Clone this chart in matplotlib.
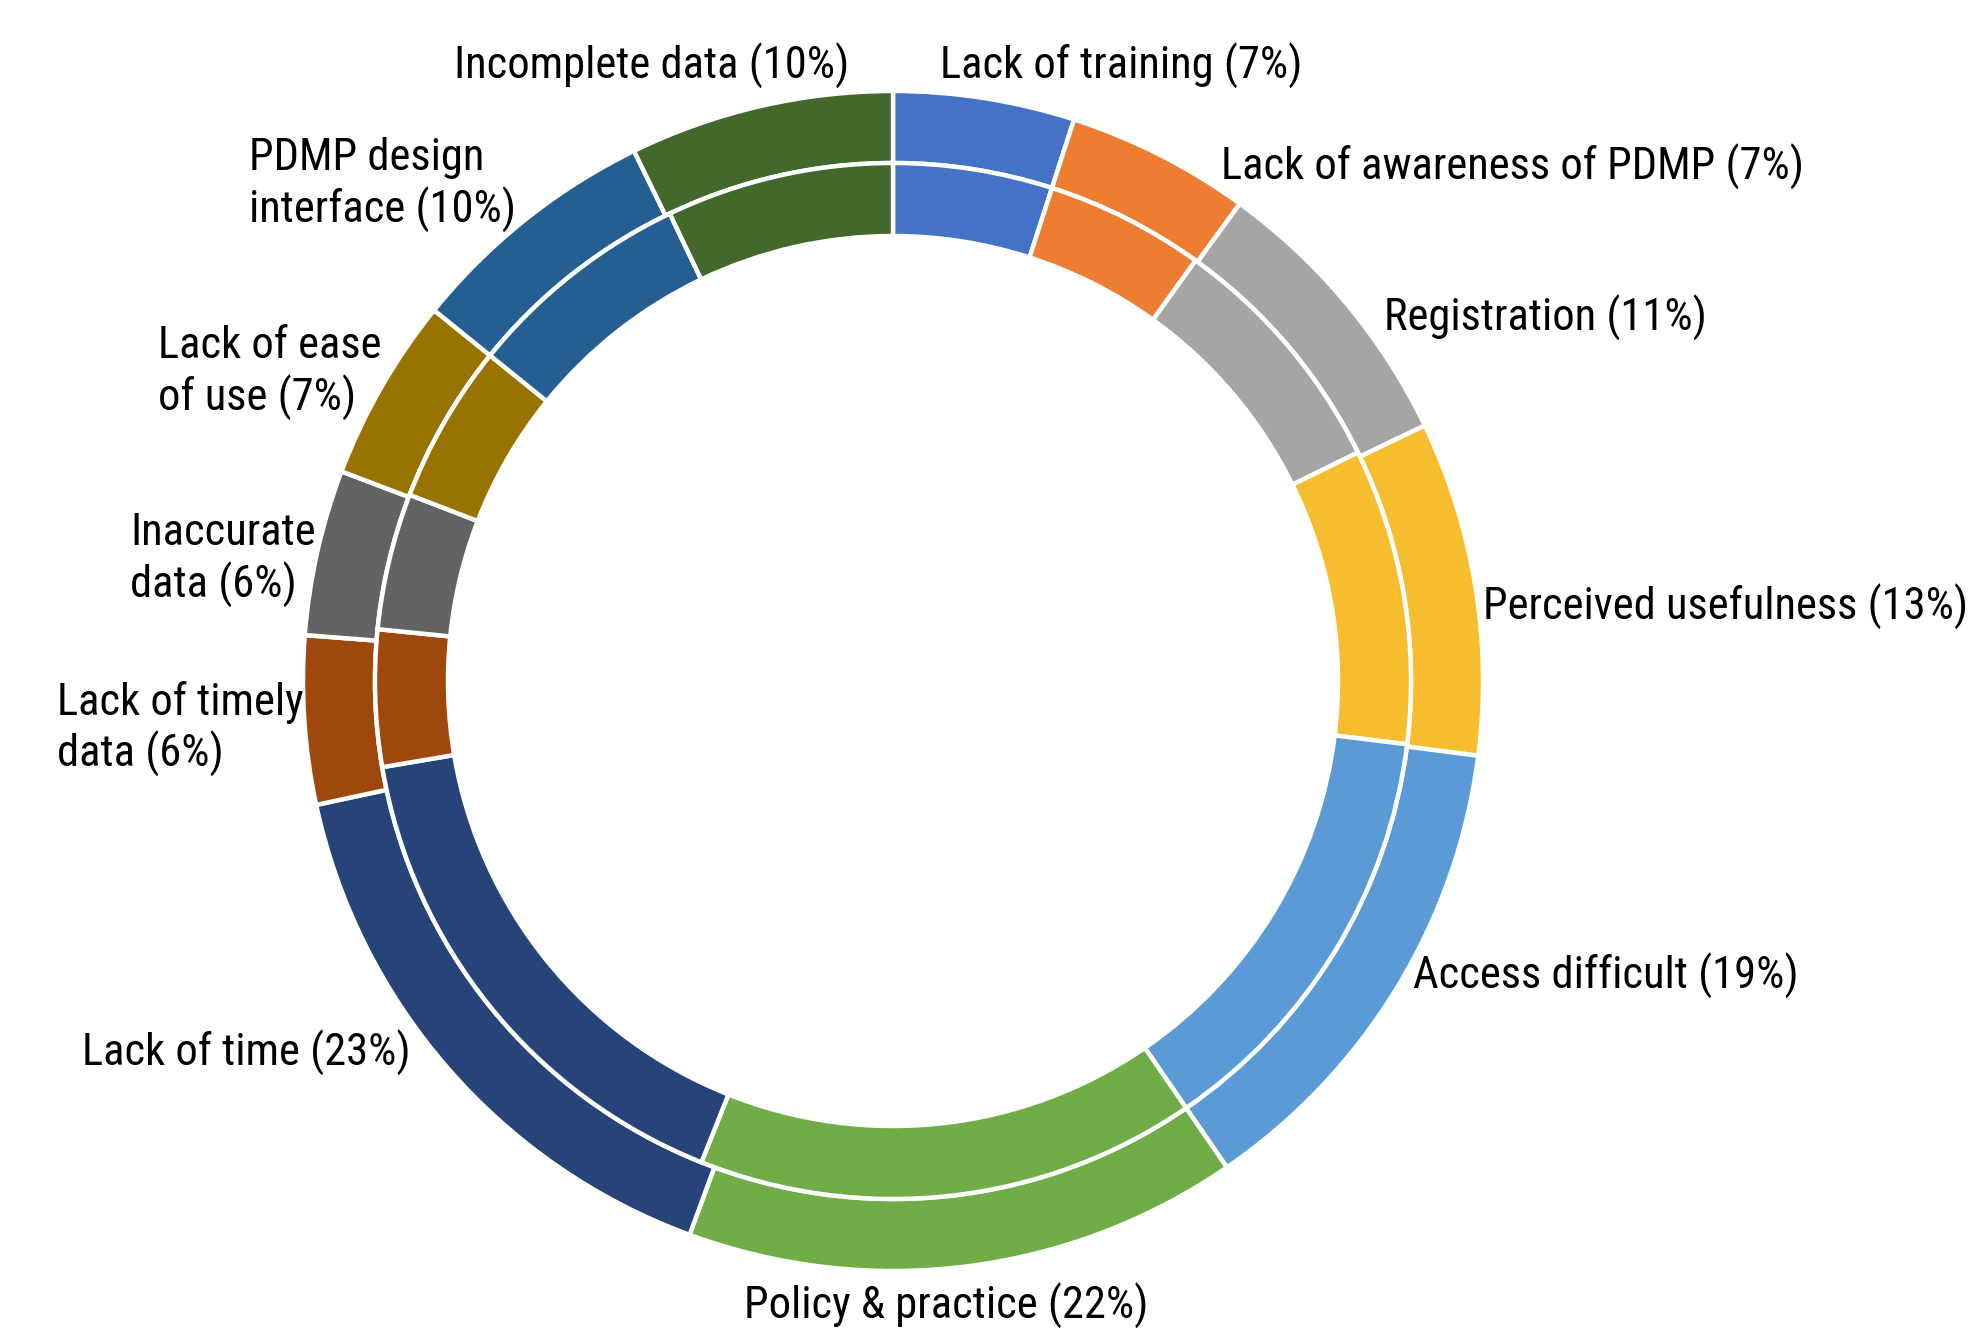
import numpy as np
import matplotlib
matplotlib.use('Agg')
import matplotlib.pyplot as plt
from matplotlib import font_manager

# barrier categories, clockwise from 12 o'clock
labels = ['Lack of training (7%)', 'Lack of awareness of PDMP (7%)', 'Registration (11%)',
          'Perceived usefulness (13%)', 'Access difficult (19%)', 'Policy & practice (22%)',
          'Lack of time (23%)', 'Lack of timely\ndata (6%)', 'Inaccurate\ndata (6%)',
          'Lack of ease\nof use (7%)', 'PDMP design\ninterface (10%)', 'Incomplete data (10%)']
inner_pct = [7, 7, 11, 13, 19, 22, 23, 6, 6, 7, 10, 10]
outer_pct = [7.0, 7.1, 11.1, 12.9, 18.9, 21.4, 22.6, 6.5, 6.4, 7.1, 9.8, 10.2]
colors = ['#4472C4', '#ED7D31', '#A5A5A5', '#F6BE2F', '#5B9BD5', '#70AD47',
          '#264478', '#9E480E', '#636363', '#997300', '#255E91', '#43682B']

names = {f.name for f in font_manager.fontManager.ttflist}
narrow = [n for n in ['Liberation Sans Narrow', 'Roboto Condensed', 'DejaVu Sans Condensed',
                      'Open Sans Condensed'] if n in names]
if narrow:
    family, fsize = [narrow[0]], 32
else:
    family, fsize = ['Liberation Sans'], 27

W, H = 1978, 1330
fig = plt.figure(figsize=(W / 100, H / 100), dpi=100)
ax = fig.add_axes([0, 0, 1, 1])

cx, cy = 893, 681
wp = dict(edgecolor='white', linewidth=3.2)
ax.pie(outer_pct, colors=colors, radius=590, center=(cx, -cy), startangle=90,
       counterclock=False, wedgeprops=dict(width=72, **wp), frame=True)
ax.pie(inner_pct, colors=colors, radius=518, center=(cx, -cy), startangle=90,
       counterclock=False, wedgeprops=dict(width=73, **wp), frame=True)
# pie draws in y-up coordinates; flip back into pixel space
for p in ax.patches:
    p.set_transform(matplotlib.transforms.Affine2D().scale(1, -1) + ax.transData)
ax.set_xlim(0, W)
ax.set_ylim(H, 0)
ax.set_aspect('equal')
ax.axis('off')

# label anchors (x, y, ha)
pos = [(940, 66, 'left'), (1221, 167, 'left'), (1384, 318, 'left'),
       (1483, 607, 'left'), (1413, 976, 'left'), (744, 1306, 'left'),
       (82, 1053, 'left'), (57, 729, 'left'), (130, 560, 'left'),
       (158, 373, 'left'), (249, 185, 'left'), (849, 66, 'right')]
for lab, (x, y, ha) in zip(labels, pos):
    ax.text(x, y, lab, ha=ha, va='center', fontsize=fsize, family=family,
            color='black', linespacing=1.22)

fig.savefig('out.png', dpi=100, facecolor='white')
